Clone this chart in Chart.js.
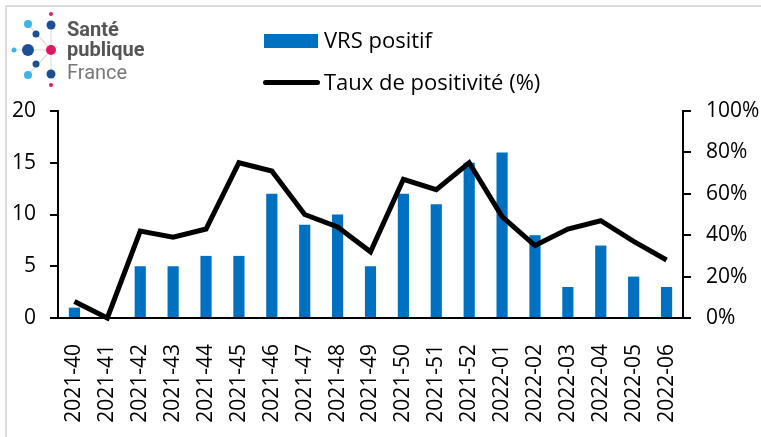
<!DOCTYPE html>
<html lang="fr">
<head>
<meta charset="UTF-8">
<title>VRS positif</title>
<style>
    body { margin: 0; background: #fff; }
    .cadre { position: relative; width: 761px; height: 437px; overflow: hidden; font-family: "Open Sans", sans-serif; }
    .bord { position: absolute; left: 5px; top: 5px; width: 800px; height: 500px; border-left: 2px solid #dcdcdc; border-top: 2px solid #dcdcdc; }
    #graphe { position: absolute; left: 0; top: 0; }
    .logo { position: absolute; left: 0; top: 0; }
    .logo .txt { position: absolute; left: 67px; font-family: Roboto, sans-serif; font-size: 20px; line-height: 20px; color: #555; }
    .legende { position: absolute; left: 263px; font-size: 22px; color: #000; }
    .legende div { position: absolute; white-space: nowrap; }
</style>
</head>
<body>
<div class="cadre">
    <div class="bord"></div>
    <canvas id="graphe" width="761" height="437"></canvas>

    <div class="logo">
        <svg width="64" height="95">
            <g stroke="#dedede" stroke-width="1.2">
                <line x1="51" y1="50" x2="28" y2="24"/><line x1="51" y1="50" x2="51" y2="25"/>
                <line x1="51" y1="50" x2="14" y2="50"/><line x1="51" y1="50" x2="28" y2="75"/>
                <line x1="51" y1="50" x2="51" y2="74"/>
            </g>
            <circle cx="51" cy="14" r="2" fill="#e0175f"/>
            <circle cx="28" cy="24" r="4" fill="#3cb4e6"/>
            <circle cx="51" cy="25" r="4.5" fill="#1d4f96"/>
            <circle cx="36" cy="34" r="3.5" fill="#1d4f96"/>
            <circle cx="14" cy="50" r="2.5" fill="#3cb4e6"/>
            <circle cx="28" cy="50" r="6" fill="#1d4f96"/>
            <circle cx="51" cy="50" r="5" fill="#e0175f"/>
            <circle cx="36" cy="64" r="3.5" fill="#1d4f96"/>
            <circle cx="28" cy="75" r="4" fill="#3cb4e6"/>
            <circle cx="51" cy="74" r="4.5" fill="#1d4f96"/>
            <circle cx="51" cy="85" r="2" fill="#e0175f"/>
        </svg>
        <div class="txt" style="top:19px;font-weight:bold">Santé</div>
        <div class="txt" style="top:39px;font-weight:bold">publique</div>
        <div class="txt" style="top:62px;color:#777">France</div>
    </div>

    <div class="legende" id="legende"></div>
</div>

<script src="https://cdn.jsdelivr.net/npm/chart.js"></script>
<script>
    const semaines = ['2021-40', '2021-41', '2021-42', '2021-43', '2021-44', '2021-45', '2021-46', '2021-47', '2021-48', '2021-49',
        '2021-50', '2021-51', '2021-52', '2022-01', '2022-02', '2022-03', '2022-04', '2022-05', '2022-06'];
    const vrsPositif = [1, 0, 5, 5, 6, 6, 12, 9, 10, 5, 12, 11, 15, 16, 8, 3, 7, 4, 3];
    const tauxPositivite = [8, 0, 42, 39, 43, 75, 71, 50, 44, 32, 67, 62, 75, 49, 35, 43, 47, 37, 28];
    const ticksGauche = [0, 5, 10, 15, 20];
    const ticksDroite = [0, 20, 40, 60, 80, 100];

    const bleu = '#0070C0';
    const police = { family: 'Open Sans', size: 21 };

    // legende a la main (deux lignes empilees)
    const leg = document.getElementById('legende');
    leg.innerHTML =
        '<div style="left:1px;top:34px;width:54px;height:14px;background:' + bleu + '"></div>' +
        '<div style="left:61px;top:24px">VRS positif</div>' +
        '<div style="left:0;top:80px;width:57px;height:5px;border-radius:3px;background:#000"></div>' +
        '<div style="left:61px;top:66px">Taux de positivité (%)</div>';

    const ctx = document.getElementById('graphe').getContext('2d');
    new Chart(ctx, {
        data: {
            labels: semaines,
            datasets: [
                {
                    type: 'line',
                    label: 'Taux de positivité (%)',
                    data: tauxPositivite,
                    yAxisID: 'y1',
                    borderColor: '#000',
                    borderWidth: 5,
                    pointRadius: 0,
                    tension: 0,
                    clip: false,
                    order: 0
                },
                {
                    type: 'bar',
                    label: 'VRS positif',
                    data: vrsPositif,
                    yAxisID: 'y',
                    backgroundColor: bleu,
                    barPercentage: 0.34,
                    categoryPercentage: 1,
                    order: 1
                }
            ]
        },
        options: {
            responsive: false,
            animation: false,
            layout: { padding: { top: 111 } },
            plugins: { legend: { display: false }, tooltip: { enabled: false } },
            scales: {
                x: {
                    offset: true,
                    grid: { display: false },
                    border: { display: true, color: '#000', width: 2 },
                    ticks: { color: '#000', font: police, maxRotation: 90, minRotation: 90, padding: 18, autoSkip: false },
                    afterFit: s => { s.height = 119; }
                },
                y: {
                    position: 'left',
                    min: 0, max: 20,
                    afterBuildTicks: s => { s.ticks = ticksGauche.map(v => ({ value: v })); },
                    grid: { drawOnChartArea: false, drawTicks: true, tickLength: 8, color: '#000', lineWidth: 2 },
                    border: { color: '#000', width: 2 },
                    ticks: { color: '#000', font: police, padding: 14 },
                    afterFit: s => { s.width = 58; }
                },
                y1: {
                    position: 'right',
                    min: 0, max: 100,
                    afterBuildTicks: s => { s.ticks = ticksDroite.map(v => ({ value: v })); },
                    grid: { drawOnChartArea: false, drawTicks: true, tickLength: 8, color: '#000', lineWidth: 2 },
                    border: { color: '#000', width: 2 },
                    ticks: { color: '#000', font: police, padding: 15, callback: v => v + '%' },
                    afterFit: s => { s.width = 78; }
                }
            }
        }
    });
</script>
</body>
</html>
